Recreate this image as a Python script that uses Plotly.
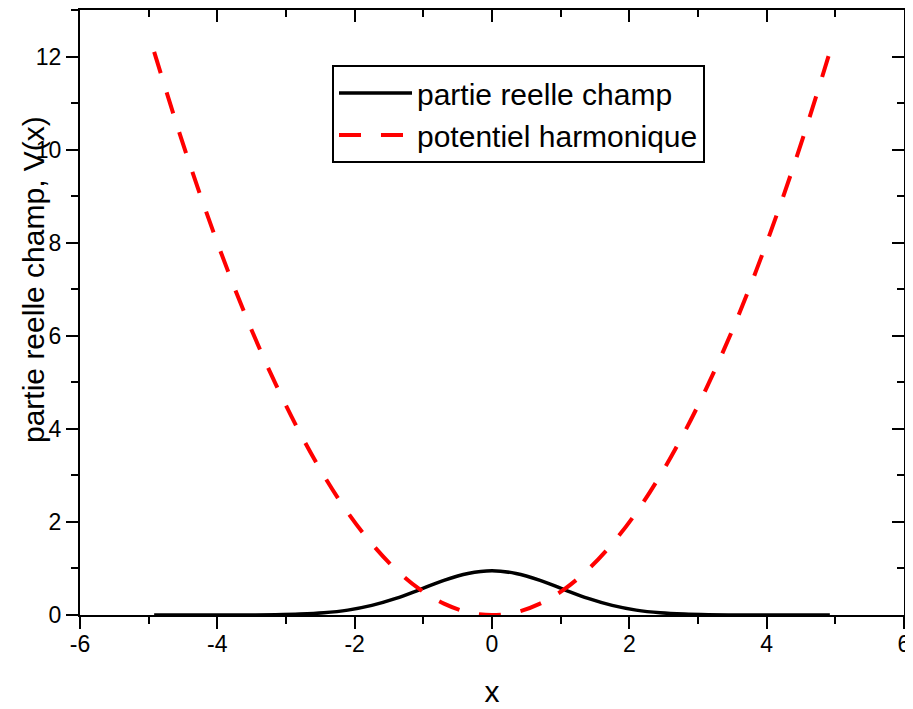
import numpy as np
import plotly.graph_objects as go

# x grid for both curves
x_vals = [-4.92, -4.55, -4.2, -3.85, -3.5, -3.15, -2.8, -2.45, -2.1, -1.75, -1.4, -1.05, -0.7, -0.35, 0.0,
          0.35, 0.7, 1.05, 1.4, 1.75, 2.1, 2.45, 2.8, 3.15, 3.5, 3.85, 4.2, 4.55, 4.92]

# partie reelle champ
champ = [0.0, 0.0, 0.0001, 0.0005, 0.0021, 0.0066, 0.019, 0.047, 0.105, 0.206, 0.356, 0.546, 0.745, 0.893, 0.95,
         0.893, 0.745, 0.546, 0.356, 0.206, 0.105, 0.047, 0.019, 0.0066, 0.0021, 0.0005, 0.0001, 0.0, 0.0]

# potentiel harmonique
potentiel = [12.1, 10.35, 8.82, 7.41, 6.12, 4.96, 3.92, 3.0, 2.2, 1.53, 0.98, 0.55, 0.245, 0.06, 0.0,
             0.06, 0.245, 0.55, 0.98, 1.53, 2.2, 3.0, 3.92, 4.96, 6.12, 7.41, 8.82, 10.35, 12.1]

# tick labels
x_tickvals = [-6, -4, -2, 0, 2, 4, 6]
x_ticktext = ["-6", "-4", "-2", "0", "2", "4", "6"]
y_tickvals = [0, 2, 4, 6, 8, 10, 12]
y_ticktext = ["0", "2", "4", "6", "8", "10", "12"]

FONT = "Arial, Liberation Sans, sans-serif"

fig = go.Figure()
fig.add_trace(go.Scatter(x=x_vals, y=champ, mode="lines", name="partie reelle champ",
                         line=dict(color="black", width=3.5, shape="spline")))
fig.add_trace(go.Scatter(x=x_vals, y=potentiel, mode="lines", name="potentiel harmonique",
                         line=dict(color="#ff0000", width=4, dash="22px,20px", shape="spline")))
# invisible trace to anchor mirror axes
fig.add_trace(go.Scatter(x=[0], y=[0], xaxis="x2", yaxis="y2", mode="markers",
                         marker=dict(opacity=0), showlegend=False, hoverinfo="skip"))

axis_common = dict(showline=True, linecolor="black", linewidth=2, showgrid=False, zeroline=False,
                   tickcolor="black", tickwidth=2, ticklen=12, automargin=False,
                   tickfont=dict(family=FONT, size=23, color="black"))
minor_out = dict(dtick=1, ticks="outside", ticklen=7, tickwidth=2, tickcolor="black")
minor_in = dict(dtick=1, ticks="inside", ticklen=7, tickwidth=2, tickcolor="black")

# page body has an 8px margin, so the figure is 8px smaller than the window
PLOT_H = 701 - 2 - 94

fig.update_layout(
    width=905, height=701,
    margin=dict(l=72, r=9, t=2, b=94),
    plot_bgcolor="white", paper_bgcolor="white",
    font=dict(family=FONT, color="black"),
    xaxis=dict(range=[-6, 6], tickmode="array", tickvals=x_tickvals, ticktext=x_ticktext,
               ticks="outside", minor=minor_out, ticklabelstandoff=-5,
               title=dict(text="x", font=dict(family=FONT, size=30), standoff=25),
               **axis_common),
    yaxis=dict(range=[0, 13], tickmode="array", tickvals=y_tickvals, ticktext=y_ticktext,
               ticks="outside", minor=minor_out, **axis_common),
    xaxis2=dict(overlaying="x", side="top", matches="x", range=[-6, 6], dtick=2, ticks="inside",
                showticklabels=False, minor=minor_in, **axis_common),
    yaxis2=dict(overlaying="y", side="right", matches="y", range=[0, 13], dtick=2, ticks="inside",
                showticklabels=False, minor=minor_in, **axis_common),
    legend=dict(x=(332 - 80) / 824, y=(615 - 65) / PLOT_H, xanchor="left", yanchor="top",
                bgcolor="white", bordercolor="black", borderwidth=2,
                font=dict(family=FONT, size=30, color="black"),
                tracegroupgap=0, itemwidth=73),
    annotations=[dict(text="partie reelle champ, V(x)", textangle=-90, xref="paper", yref="paper",
                      x=0, y=(615 - 280) / PLOT_H, xanchor="center", yanchor="middle",
                      xshift=-47, showarrow=False,
                      font=dict(family=FONT, size=30, color="black"))],
    showlegend=True,
)

fig.write_html("out.html")
